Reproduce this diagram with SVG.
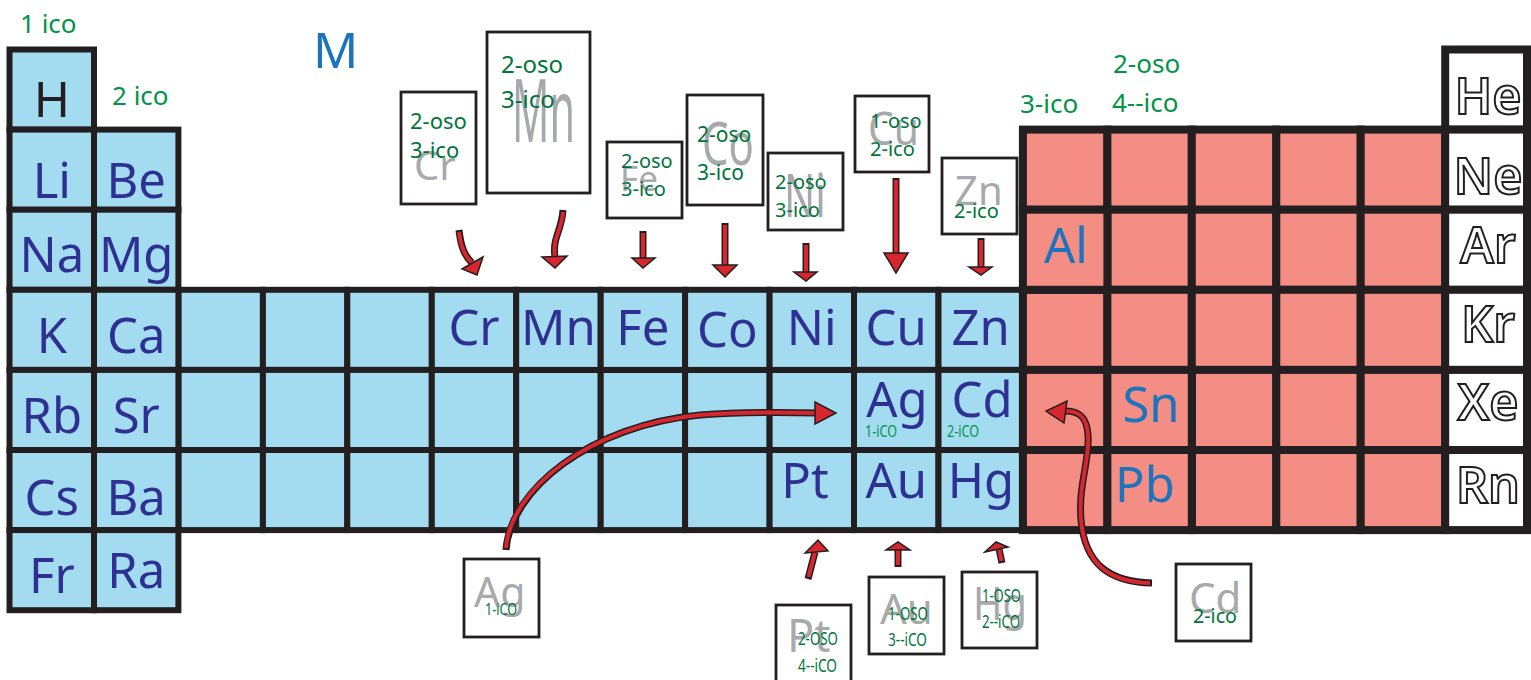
<svg xmlns="http://www.w3.org/2000/svg" width="1531" height="680" viewBox="0 0 1531 680">
<style>
.b{fill:#a3dcf1;stroke:#231f20;stroke-width:6}
.p{fill:#f48e84;stroke:#231f20;stroke-width:8}
.n{fill:#fff;stroke:#231f20;stroke-width:8}
text{font-family:"Noto Sans","Open Sans","DejaVu Sans",sans-serif}
.el{font-size:49px;fill:#2e3192;text-anchor:middle}
.mb{fill:#1c75bc}
.ng{font-size:50px;font-weight:600;fill:#fff;stroke:#231f20;stroke-width:2;text-anchor:middle}
.lbl{font-size:26px;fill:#009444}
.box{fill:#fff;stroke:#231f20;stroke-width:2.8}
.gr{fill:#a7a9ac}
.cg{fill:#00753a}
.sm{font-size:16px;fill:#009444}
.ao{fill:none;stroke:#231f20;stroke-width:7}
.ai{fill:none;stroke:#d7262d;stroke-width:4}
.ah{fill:#d7262d;stroke:#231f20;stroke-width:1.5}
</style>

<g id="empty-cells">
  <rect class="b" x="178.4" y="289.8" width="84.5" height="80.1"/>
  <rect class="b" x="262.9" y="289.8" width="84.4" height="80.1"/>
  <rect class="b" x="347.3" y="289.8" width="84.5" height="80.1"/>
  <rect class="b" x="178.4" y="369.9" width="84.5" height="80.1"/>
  <rect class="b" x="262.9" y="369.9" width="84.4" height="80.1"/>
  <rect class="b" x="347.3" y="369.9" width="84.5" height="80.1"/>
  <rect class="b" x="431.8" y="369.9" width="84.4" height="80.1"/>
  <rect class="b" x="516.2" y="369.9" width="84.5" height="80.1"/>
  <rect class="b" x="600.7" y="369.9" width="84.4" height="80.1"/>
  <rect class="b" x="685.1" y="369.9" width="84.5" height="80.1"/>
  <rect class="b" x="769.6" y="369.9" width="84.4" height="80.1"/>
  <rect class="b" x="178.4" y="450" width="84.5" height="80.1"/>
  <rect class="b" x="262.9" y="450" width="84.4" height="80.1"/>
  <rect class="b" x="347.3" y="450" width="84.5" height="80.1"/>
  <rect class="b" x="431.8" y="450" width="84.4" height="80.1"/>
  <rect class="b" x="516.2" y="450" width="84.5" height="80.1"/>
  <rect class="b" x="600.7" y="450" width="84.4" height="80.1"/>
  <rect class="b" x="685.1" y="450" width="84.5" height="80.1"/>
</g>

<g id="s-block">
  <g id="H"><rect class="b" x="9.5" y="49.5" width="84.5" height="80.1"/><text class="el" x="51.8" y="117" style="fill:#231f20">H</text></g>
  <g id="Li"><rect class="b" x="9.5" y="129.6" width="84.5" height="80.1"/><text class="el" x="51.8" y="198">Li</text></g>
  <g id="Be"><rect class="b" x="94" y="129.6" width="84.4" height="80.1"/><text class="el" x="136.2" y="198">Be</text></g>
  <g id="Na"><rect class="b" x="9.5" y="209.7" width="84.5" height="80.1"/><text class="el" x="51.8" y="272">Na</text></g>
  <g id="Mg"><rect class="b" x="94" y="209.7" width="84.4" height="80.1"/><text class="el" x="136.2" y="272">Mg</text></g>
  <g id="K"><rect class="b" x="9.5" y="289.8" width="84.5" height="80.1"/><text class="el" x="51.8" y="353">K</text></g>
  <g id="Ca"><rect class="b" x="94" y="289.8" width="84.4" height="80.1"/><text class="el" x="136.2" y="353">Ca</text></g>
  <g id="Rb"><rect class="b" x="9.5" y="369.9" width="84.5" height="80.1"/><text class="el" x="51.8" y="433">Rb</text></g>
  <g id="Sr"><rect class="b" x="94" y="369.9" width="84.4" height="80.1"/><text class="el" x="136.2" y="433">Sr</text></g>
  <g id="Cs"><rect class="b" x="9.5" y="450" width="84.5" height="80.1"/><text class="el" x="51.8" y="515">Cs</text></g>
  <g id="Ba"><rect class="b" x="94" y="450" width="84.4" height="80.1"/><text class="el" x="136.2" y="515">Ba</text></g>
  <g id="Fr"><rect class="b" x="9.5" y="530.1" width="84.5" height="80.1"/><text class="el" x="51.8" y="593">Fr</text></g>
  <g id="Ra"><rect class="b" x="94" y="530.1" width="84.4" height="80.1"/><text class="el" x="136.2" y="588">Ra</text></g>
</g>

<g id="d-block">
  <g id="Cr"><rect class="b" x="431.8" y="289.8" width="84.4" height="80.1"/><text class="el" x="474" y="345">Cr</text></g>
  <g id="Mn"><rect class="b" x="516.2" y="289.8" width="84.5" height="80.1"/><text class="el" x="558.4" y="345">Mn</text></g>
  <g id="Fe"><rect class="b" x="600.7" y="289.8" width="84.4" height="80.1"/><text class="el" x="642.9" y="345">Fe</text></g>
  <g id="Co"><rect class="b" x="685.1" y="289.8" width="84.5" height="80.1"/><text class="el" x="727.3" y="347">Co</text></g>
  <g id="Ni"><rect class="b" x="769.6" y="289.8" width="84.4" height="80.1"/><text class="el" x="811.8" y="345">Ni</text></g>
  <g id="Cu"><rect class="b" x="854" y="289.8" width="84.5" height="80.1"/><text class="el" x="896.2" y="345">Cu</text></g>
  <g id="Zn"><rect class="b" x="938.5" y="289.8" width="84.4" height="80.1"/><text class="el" x="980.7" y="345">Zn</text></g>
  <g id="Ag"><rect class="b" x="854" y="369.9" width="84.5" height="80.1"/><text class="el" x="897" y="417">Ag</text><text class="sm" x="865" y="437" textLength="32" lengthAdjust="spacingAndGlyphs">1-iCO</text></g>
  <g id="Cd"><rect class="b" x="938.5" y="369.9" width="84.4" height="80.1"/><text class="el" x="982" y="417">Cd</text><text class="sm" x="947" y="437" textLength="32" lengthAdjust="spacingAndGlyphs">2-iCO</text></g>
  <g id="Pt"><rect class="b" x="769.6" y="450" width="84.4" height="80.1"/><text class="el" x="805" y="498">Pt</text></g>
  <g id="Au"><rect class="b" x="854" y="450" width="84.5" height="80.1"/><text class="el" x="896.2" y="498">Au</text></g>
  <g id="Hg"><rect class="b" x="938.5" y="450" width="84.4" height="80.1"/><text class="el" x="981" y="498">Hg</text></g>
</g>

<g id="p-block">
  <rect class="p" x="1022.9" y="129.6" width="84.5" height="80.1"/>
  <rect class="p" x="1107.4" y="129.6" width="84.4" height="80.1"/>
  <rect class="p" x="1191.8" y="129.6" width="84.5" height="80.1"/>
  <rect class="p" x="1276.3" y="129.6" width="84.4" height="80.1"/>
  <rect class="p" x="1360.7" y="129.6" width="84.5" height="80.1"/>
  <rect class="p" x="1107.4" y="209.7" width="84.4" height="80.1"/>
  <rect class="p" x="1191.8" y="209.7" width="84.5" height="80.1"/>
  <rect class="p" x="1276.3" y="209.7" width="84.4" height="80.1"/>
  <rect class="p" x="1360.7" y="209.7" width="84.5" height="80.1"/>
  <rect class="p" x="1022.9" y="289.8" width="84.5" height="80.1"/>
  <rect class="p" x="1107.4" y="289.8" width="84.4" height="80.1"/>
  <rect class="p" x="1191.8" y="289.8" width="84.5" height="80.1"/>
  <rect class="p" x="1276.3" y="289.8" width="84.4" height="80.1"/>
  <rect class="p" x="1360.7" y="289.8" width="84.5" height="80.1"/>
  <rect class="p" x="1022.9" y="369.9" width="84.5" height="80.1"/>
  <rect class="p" x="1191.8" y="369.9" width="84.5" height="80.1"/>
  <rect class="p" x="1276.3" y="369.9" width="84.4" height="80.1"/>
  <rect class="p" x="1360.7" y="369.9" width="84.5" height="80.1"/>
  <rect class="p" x="1022.9" y="450" width="84.5" height="80.1"/>
  <rect class="p" x="1191.8" y="450" width="84.5" height="80.1"/>
  <rect class="p" x="1276.3" y="450" width="84.4" height="80.1"/>
  <rect class="p" x="1360.7" y="450" width="84.5" height="80.1"/>
  <g id="Al"><rect class="p" x="1022.9" y="209.7" width="84.5" height="80.1"/><text class="el mb" x="1066" y="263">Al</text></g>
  <g id="Sn"><rect class="p" x="1107.4" y="369.9" width="84.4" height="80.1"/><text class="el mb" x="1151" y="422">Sn</text></g>
  <g id="Pb"><rect class="p" x="1107.4" y="450" width="84.4" height="80.1"/><text class="el mb" x="1145" y="502">Pb</text></g>
</g>

<g id="noble">
  <g id="He"><rect class="n" x="1445.2" y="49.5" width="81.8" height="80.1"/><text class="ng" x="1488" y="114">He</text></g>
  <g id="Ne"><rect class="n" x="1445.2" y="129.6" width="81.8" height="80.1"/><text class="ng" x="1488" y="194">Ne</text></g>
  <g id="Ar"><rect class="n" x="1445.2" y="209.7" width="81.8" height="80.1"/><text class="ng" x="1488" y="263">Ar</text></g>
  <g id="Kr"><rect class="n" x="1445.2" y="289.8" width="81.8" height="80.1"/><text class="ng" x="1488" y="342">Kr</text></g>
  <g id="Xe"><rect class="n" x="1445.2" y="369.9" width="81.8" height="80.1"/><text class="ng" x="1488" y="420">Xe</text></g>
  <g id="Rn"><rect class="n" x="1445.2" y="450" width="81.8" height="80.1"/><text class="ng" x="1488" y="503">Rn</text></g>
</g>

<g id="labels">
  <text class="lbl" x="20" y="33">1 ico</text>
  <text class="lbl" x="112" y="105">2 ico</text>
  <text class="mb" x="313" y="68" font-size="50">M</text>
  <text class="lbl" x="1020" y="113">3-ico</text>
  <text class="lbl" x="1113" y="73">2-oso</text>
  <text class="lbl" x="1112" y="112">4--ico</text>
</g>

<g id="callout-Cr">
  <rect class="box" x="401" y="92" width="75" height="112"/>
  <text class="gr" x="414" y="180" font-size="40">Cr</text>
  <text class="cg" x="410" y="129" font-size="22">2-oso</text>
  <text class="cg" x="410" y="158" font-size="22">3-ico</text>
</g>
<g id="callout-Mn">
  <rect class="box" x="487" y="32" width="103" height="161"/>
  <text class="gr" x="512" y="142" font-size="87" textLength="63" lengthAdjust="spacingAndGlyphs">Mn</text>
  <text class="cg" x="501" y="73" font-size="24">2-oso</text>
  <text class="cg" x="501" y="108" font-size="24">3-ico</text>
</g>
<g id="callout-Fe">
  <rect class="box" x="607" y="142" width="75" height="76"/>
  <text class="gr" x="620" y="191" font-size="35">Fe</text>
  <text class="cg" x="621" y="168" font-size="20">2-oso</text>
  <text class="cg" x="621" y="196" font-size="20">3-ico</text>
</g>
<g id="callout-Co">
  <rect class="box" x="687" y="95" width="76" height="110"/>
  <text class="gr" x="702" y="165" font-size="60" textLength="52" lengthAdjust="spacingAndGlyphs">Co</text>
  <text class="cg" x="697" y="142" font-size="21">2-oso</text>
  <text class="cg" x="697" y="180" font-size="21">3-ico</text>
</g>
<g id="callout-Ni">
  <rect class="box" x="768" y="153" width="75" height="77"/>
  <text class="gr" x="784" y="217" font-size="61" textLength="42" lengthAdjust="spacingAndGlyphs">Ni</text>
  <text class="cg" x="775" y="189" font-size="20">2-oso</text>
  <text class="cg" x="775" y="217" font-size="20">3-ico</text>
</g>
<g id="callout-Cu">
  <rect class="box" x="855" y="96" width="74" height="76"/>
  <text class="gr" x="868" y="145" font-size="45" textLength="51" lengthAdjust="spacingAndGlyphs">Cu</text>
  <text class="cg" x="870" y="128" font-size="20">1-oso</text>
  <text class="cg" x="870" y="156" font-size="20">2-ico</text>
</g>
<g id="callout-Zn">
  <rect class="box" x="942" y="158" width="75" height="76"/>
  <text class="gr" x="955" y="205" font-size="40">Zn</text>
  <text class="cg" x="954" y="218" font-size="20">2-ico</text>
</g>
<g id="callout-Ag">
  <rect class="box" x="464" y="559" width="75" height="78"/>
  <text class="gr" x="474" y="607" font-size="41">Ag</text>
  <text class="cg" x="485" y="615" font-size="16" textLength="32" lengthAdjust="spacingAndGlyphs">1-iCO</text>
</g>
<g id="callout-Pt">
  <rect class="box" x="776" y="605" width="75" height="90"/>
  <text class="gr" x="787" y="652" font-size="45">Pt</text>
  <text class="cg" x="798" y="645" font-size="18" textLength="40" lengthAdjust="spacingAndGlyphs">2-OSO</text>
  <text class="cg" x="798" y="672" font-size="18" textLength="39" lengthAdjust="spacingAndGlyphs">4--iCO</text>
</g>
<g id="callout-Au">
  <rect class="box" x="869" y="577" width="75" height="77"/>
  <text class="gr" x="880" y="624" font-size="42">Au</text>
  <text class="cg" x="888" y="620" font-size="18" textLength="40" lengthAdjust="spacingAndGlyphs">1-OSO</text>
  <text class="cg" x="888" y="646" font-size="18" textLength="39" lengthAdjust="spacingAndGlyphs">3--iCO</text>
</g>
<g id="callout-Hg">
  <rect class="box" x="962" y="572" width="75" height="76"/>
  <text class="gr" x="973" y="620" font-size="45" textLength="54" lengthAdjust="spacingAndGlyphs">Hg</text>
  <text class="cg" x="982" y="602" font-size="18" textLength="39" lengthAdjust="spacingAndGlyphs">1-OSO</text>
  <text class="cg" x="982" y="628" font-size="18" textLength="38" lengthAdjust="spacingAndGlyphs">2--iCO</text>
</g>
<g id="callout-Cd">
  <rect class="box" x="1176" y="564" width="75" height="77"/>
  <text class="gr" x="1189" y="613" font-size="42">Cd</text>
  <text class="cg" x="1193" y="623" font-size="19" textLength="44" lengthAdjust="spacingAndGlyphs">2-ico</text>
</g>

<g id="connectors">
  <path class="ao" d="M459,230 C461,248 465,256 472,263"/>
  <path class="ai" d="M459,232 C461,248 465,256 472,263"/>
  <polygon class="ah" points="462,269 483,257 477,275"/>

  <path class="ao" d="M563,210 C562,230 552,238 555,257"/>
  <path class="ai" d="M563,212 C562,230 552,238 555,257"/>
  <polygon class="ah" points="542,257 567,256 555,268"/>

  <path class="ao" d="M643,231 L643,258"/>
  <path class="ai" d="M643,233 L643,258"/>
  <polygon class="ah" points="632,258 655,258 643,268"/>

  <path class="ao" d="M725,223 L725,265"/>
  <path class="ai" d="M725,225 L725,265"/>
  <polygon class="ah" points="713,265 737,265 725,277"/>

  <path class="ao" d="M806,243 L806,272"/>
  <path class="ai" d="M806,245 L806,272"/>
  <polygon class="ah" points="794,272 817,272 806,281"/>

  <path class="ao" d="M896,178 L896,253"/>
  <path class="ai" d="M896,180 L896,253"/>
  <polygon class="ah" points="884,253 908,253 896,273"/>

  <path class="ao" d="M981,238 L981,267"/>
  <path class="ai" d="M981,240 L981,267"/>
  <polygon class="ah" points="969,267 992,267 981,275"/>

  <path class="ao" d="M808,579 L815,552"/>
  <path class="ai" d="M808.5,577 L815,552"/>
  <polygon class="ah" points="805,553 828,551 818,540"/>

  <path class="ao" d="M898,567 L898,549"/>
  <path class="ai" d="M898,565 L898,549"/>
  <polygon class="ah" points="886,550 910,550 898,542"/>

  <path class="ao" d="M1002,563 L999,549"/>
  <path class="ai" d="M1001.6,561 L999,549"/>
  <polygon class="ah" points="985,552 1008,547 996,542"/>

  <path class="ao" d="M506,550 C510,490 590,425 700,415 C740,412 780,412 816,413"/>
  <path class="ai" d="M506,548 C510,490 590,425 700,415 C740,412 780,412 816,413"/>
  <polygon class="ah" points="815,402 815,424 836,413"/>

  <path class="ao" d="M1152,583 C1110,582 1085,565 1081,520 C1078,485 1090,460 1088,435 C1087,418 1080,411 1066,411"/>
  <path class="ai" d="M1150,583 C1110,582 1085,565 1081,520 C1078,485 1090,460 1088,435 C1087,418 1080,411 1066,411"/>
  <polygon class="ah" points="1067,401 1064,423 1046,411"/>
</g>
</svg>
